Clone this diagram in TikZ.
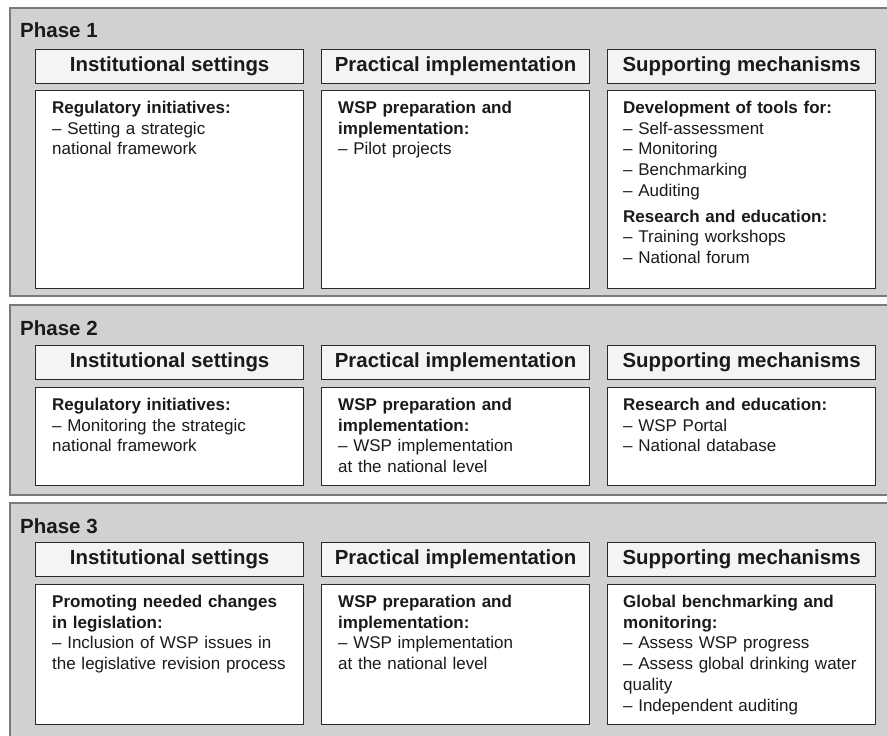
\documentclass[tikz,border=0pt]{standalone}
\usepackage{fontspec}
\setmainfont{Liberation Sans}
\definecolor{panelgray}{HTML}{D0D1D3}
\definecolor{panelborder}{HTML}{7A7A7A}
\definecolor{headfill}{HTML}{F4F4F4}
\definecolor{boxborder}{HTML}{2A2A2A}
\definecolor{txt}{HTML}{1A1A1A}
\tikzset{
  panel/.style={draw=panelborder, line width=1.5pt, fill=panelgray, inner sep=0pt, anchor=north west, minimum width=890pt},
  head/.style={draw=boxborder, fill=headfill, line width=1.2pt, minimum width=268pt, minimum height=34pt, inner sep=0pt, anchor=north west, font=\fontsize{20.4}{24}\selectfont\bfseries, text=txt},
  cbox/.style={draw=boxborder, fill=white, line width=1.2pt, minimum width=268pt, inner sep=0pt, anchor=north west},
  body/.style={anchor=base west, align=left, text width=258pt, inner sep=0pt, font=\fontsize{17}{20.7}\selectfont, text=txt},
  phaselabel/.style={anchor=base west, inner sep=0pt, font=\fontsize{20.5}{24}\selectfont\bfseries, text=txt}
}
\begin{document}
\begin{tikzpicture}[x=1pt,y=-1pt]
\clip (0,0) rectangle (887,736);
\fill[white] (0,0) rectangle (887,736);
% Panels
\node[panel, minimum height=288pt] (p1) at (9,7) {};
\node[panel, minimum height=190pt] (p2) at (9,304) {};
\node[panel, minimum height=245pt] (p3) at (9,502) {};
\node[phaselabel] (l1) at (20,37) {Phase 1};
\node[phaselabel] (l2) at (20,335) {Phase 2};
\node[phaselabel] (l3) at (20,533) {Phase 3};
% Phase 1
\node[head] (h11) at (35,49) {Institutional settings};
\node[head] (h12) at (321,49) {Practical implementation};
\node[head] (h13) at (607,49) {Supporting mechanisms};
\node[cbox, minimum height=198pt] (b11) at (35,90) {};
\node[cbox, minimum height=198pt] (b12) at (321,90) {};
\node[cbox, minimum height=198pt] (b13) at (607,90) {};
\node[body] (t11) at (52,113.5) {\textbf{Regulatory initiatives:}\\– Setting a strategic\\national framework};
\node[body] (t12) at (338,113.5) {\textbf{WSP preparation and}\\\textbf{implementation:}\\– Pilot projects};
\node[body] (t13) at (623,113.5) {\textbf{Development of tools for:}\\– Self-assessment\\– Monitoring\\– Benchmarking\\– Auditing\\[5pt]\textbf{Research and education:}\\– Training workshops\\– National forum};
% Phase 2
\node[head] (h21) at (35,345) {Institutional settings};
\node[head] (h22) at (321,345) {Practical implementation};
\node[head] (h23) at (607,345) {Supporting mechanisms};
\node[cbox, minimum height=98pt] (b21) at (35,387) {};
\node[cbox, minimum height=98pt] (b22) at (321,387) {};
\node[cbox, minimum height=98pt] (b23) at (607,387) {};
\node[body] (t21) at (52,410.5) {\textbf{Regulatory initiatives:}\\– Monitoring the strategic\\national framework};
\node[body] (t22) at (338,410.5) {\textbf{WSP preparation and}\\\textbf{implementation:}\\– WSP implementation\\at the national level};
\node[body] (t23) at (623,410.5) {\textbf{Research and education:}\\– WSP Portal\\– National database};
% Phase 3
\node[head] (h31) at (35,542) {Institutional settings};
\node[head] (h32) at (321,542) {Practical implementation};
\node[head] (h33) at (607,542) {Supporting mechanisms};
\node[cbox, minimum height=140pt] (b31) at (35,584) {};
\node[cbox, minimum height=140pt] (b32) at (321,584) {};
\node[cbox, minimum height=140pt] (b33) at (607,584) {};
\node[body] (t31) at (52,607.5) {\textbf{Promoting needed changes}\\\textbf{in legislation:}\\– Inclusion of WSP issues in\\the legislative revision process};
\node[body] (t32) at (338,607.5) {\textbf{WSP preparation and}\\\textbf{implementation:}\\– WSP implementation\\at the national level};
\node[body] (t33) at (623,607.5) {\textbf{Global benchmarking and}\\\textbf{monitoring:}\\– Assess WSP progress\\– Assess global drinking water\\quality\\– Independent auditing};
\end{tikzpicture}
\end{document}
